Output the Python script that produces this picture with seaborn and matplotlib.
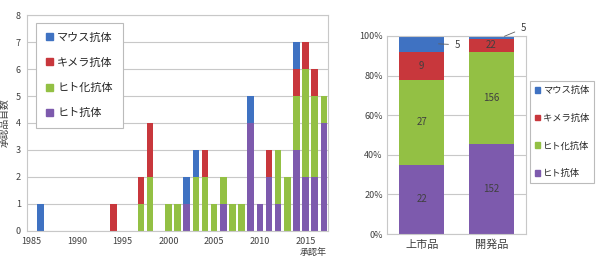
import numpy as np
import pandas as pd
import matplotlib
matplotlib.use("Agg")
import matplotlib.pyplot as plt
from matplotlib.ticker import MultipleLocator, PercentFormatter
import seaborn as sns

# 承認年ごとの品目数
years = list(range(1985, 2018))
mouse = [0, 1, 0, 0, 0, 0, 0, 0, 0, 0, 0, 0, 0, 0, 0, 0, 0,
         1, 1, 0, 0, 0, 0, 0, 1, 0, 0, 0, 0, 1, 0, 0, 0]
chimera = [0, 0, 0, 0, 0, 0, 0, 0, 0, 1, 0, 0, 1, 2, 0, 0, 0,
           0, 0, 1, 0, 0, 0, 0, 0, 0, 1, 0, 0, 1, 1, 1, 0]
humanized = [0, 0, 0, 0, 0, 0, 0, 0, 0, 0, 0, 0, 1, 2, 0, 1, 1,
             0, 2, 2, 1, 1, 1, 1, 0, 0, 0, 2, 2, 2, 4, 3, 1]
human = [0, 0, 0, 0, 0, 0, 0, 0, 0, 0, 0, 0, 0, 0, 0, 0, 0,
         1, 0, 0, 0, 1, 0, 0, 4, 1, 2, 1, 0, 3, 2, 2, 4]

# 上市品 / 開発品
stages = ["上市品", "開発品"]
stage_mouse = [5, 5]
stage_chimera = [9, 22]
stage_humanized = [27, 156]
stage_human = [22, 152]

types = ["マウス抗体", "キメラ抗体", "ヒト化抗体", "ヒト抗体"]
colors = ["#3F72C2", "#C8373C", "#93C044", "#7D5AAD"]

sns.set_style("white")
plt.rcParams['font.family'] = ['Noto Sans CJK JP', 'DejaVu Sans']
plt.rcParams['axes.unicode_minus'] = False

year_df = pd.DataFrame({
    "year": years * 4,
    "count": mouse + chimera + humanized + human,
    "type": sum([[t] * len(years) for t in types], []),
})
stage_df = pd.DataFrame({
    "stage": stages * 4,
    "count": stage_mouse + stage_chimera + stage_humanized + stage_human,
    "type": sum([[t] * len(stages) for t in types], []),
})

fig = plt.figure(figsize=(6, 2.6), dpi=100)
ax1 = fig.add_axes([0.045, 0.112, 0.502, 0.83])
ax2 = fig.add_axes([0.645, 0.10, 0.232, 0.762])

grid_c = "#C8C8C8"
txt_c = "#404040"

# 左: 年次推移
sns.histplot(data=year_df, x="year", weights="count", hue="type",
             hue_order=types, palette=colors, multiple="stack",
             discrete=True, shrink=0.72, alpha=1, linewidth=0,
             legend=False, ax=ax1)
ax1.set_xlim(1984.55, 2017.47)
ax1.set_ylim(0, 8)
ax1.xaxis.set_major_locator(MultipleLocator(5))
ax1.xaxis.set_minor_locator(MultipleLocator(1))
ax1.yaxis.set_major_locator(MultipleLocator(1))
ax1.grid(axis="y", color=grid_c, linewidth=0.8)
ax1.set_axisbelow(True)
ax1.tick_params(axis="both", which="both", labelsize=6.5, colors=txt_c,
                direction="out", length=2.5, width=0.6, color=grid_c, pad=2)
for s in ax1.spines.values():
    s.set_color(grid_c)
    s.set_linewidth(0.8)
ax1.set_xlabel("")
ax1.set_ylabel("承認品目数", fontsize=7, color=txt_c, labelpad=4)
fig.text(0.545, 0.02, "承認年", fontsize=6.5, color=txt_c, ha="right")

handles = [plt.Rectangle((0, 0), 1, 1, color=c) for c in colors]
leg1 = ax1.legend(handles, types, loc="upper left",
                  bbox_to_anchor=(0.012, 0.99), fontsize=8,
                  handlelength=0.6, handleheight=0.6, handletextpad=0.4,
                  labelspacing=1.35, borderpad=0.9, fancybox=False,
                  edgecolor="#BBBBBB", framealpha=1)
leg1.get_frame().set_linewidth(0.8)

# 右: 構成比
sns.histplot(data=stage_df, x="stage", weights="count", hue="type",
             hue_order=types, palette=colors, multiple="fill",
             discrete=True, shrink=0.65, alpha=1, linewidth=0,
             legend=False, ax=ax2)
ax2.set_xlim(-0.5, 1.5)
ax2.set_ylim(0, 1)
ax2.yaxis.set_major_locator(MultipleLocator(0.2))
ax2.yaxis.set_major_formatter(PercentFormatter(1.0, decimals=0))
ax2.grid(axis="y", color=grid_c, linewidth=0.8)
ax2.set_axisbelow(True)
ax2.tick_params(axis="y", labelsize=6.5, colors=txt_c, length=0, pad=3)
ax2.tick_params(axis="x", labelsize=8, colors=txt_c, length=0, pad=4)
for s in ax2.spines.values():
    s.set_color(grid_c)
    s.set_linewidth(0.8)
ax2.set_xlabel("")
ax2.set_ylabel("")

stack = [stage_human, stage_humanized, stage_chimera, stage_mouse]
for i in range(len(stages)):
    total = sum(v[i] for v in stack)
    base = 0
    for k, v in enumerate(stack):
        mid = (base + v[i] / 2) / total
        base += v[i]
        if k < 3:
            ax2.text(i, mid, str(v[i]), ha="center", va="center",
                     fontsize=7, color=txt_c)
        else:
            if i == 0:
                ax2.annotate(str(v[i]), xy=(i + 0.2, mid),
                             xytext=(i + 0.47, mid - 0.005),
                             fontsize=7, color=txt_c, va="center",
                             arrowprops=dict(arrowstyle="-", color="#606060",
                                             lw=0.6))
            else:
                ax2.annotate(str(v[i]), xy=(i + 0.15, mid),
                             xytext=(i + 0.42, mid + 0.045),
                             fontsize=7, color=txt_c, va="center",
                             annotation_clip=False,
                             arrowprops=dict(arrowstyle="-", color="#606060",
                                             lw=0.6))

leg2 = ax2.legend(handles, types, loc="upper left",
                  bbox_to_anchor=(1.03, 0.77), fontsize=6.7,
                  handlelength=0.55, handleheight=0.55, handletextpad=0.3,
                  labelspacing=2.0, borderpad=0.5, borderaxespad=0,
                  fancybox=False, edgecolor="#BBBBBB", framealpha=1)
leg2.get_frame().set_linewidth(0.8)

fig.savefig("out.png", dpi=100)
